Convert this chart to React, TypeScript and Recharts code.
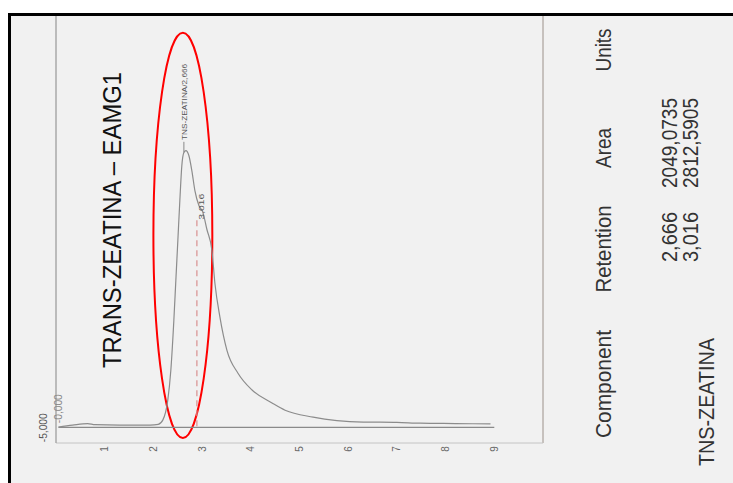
import React from 'react';
import { LineChart, Line, XAxis, YAxis, ReferenceLine, ReferenceArea, ReferenceDot } from 'recharts';

// Retention time (min) and detector signal
const times = [0.05, 0.34, 0.65, 0.8, 1.31, 1.93, 2.1, 2.193, 2.296, 2.358, 2.42, 2.461, 2.502, 2.543, 2.584, 2.626, 2.667, 2.728, 2.79, 2.852, 2.934, 3.016, 3.099, 3.202, 3.263, 3.366, 3.51, 3.737, 4.025, 4.436, 4.704, 5.28, 6.309, 7.0, 7.481, 8.2, 8.922];
const signal = [-4.8, -4.3, -3.9, -4.2, -4.3, -4.3, -4.1, -3.0, 2.3, 10.1, 23.2, 33.7, 44.1, 54.6, 63.8, 67.2, 67.7, 66.4, 62.4, 57.2, 53.3, 51.5, 47.0, 41.5, 32.9, 24.0, 15.3, 9.3, 4.9, 1.5, -0.4, -2.2, -3.5, -3.6, -3.8, -3.9, -4.0];
const xTicks = [1, 2, 3, 4, 5, 6, 7, 8, 9];
const yTicks = [-5, 0];
const yTickLabels = ['-5,000', '-0,000'];
const peakTimes = [2.666, 3.016];
const peakLabels = ['TNS-ZEATINA/2,666', '3,016'];
const title = 'TRANS-ZEATINA – EAMG1';
const tableHeaders = ['Component', 'Retention', 'Area', 'Units'];
const componentName = 'TNS-ZEATINA';
const retentions = ['2,666', '3,016'];
const areas = ['2049,0735', '2812,5905'];

const data = times.map((t, i) => ({ t, v: signal[i] }));

const FONT = '"Liberation Sans", Arial, Helvetica, sans-serif';

function RotText(props: { cx: number; cy: number; text: string; size: number; len?: number; fill?: string; anchor?: string }) {
  const { cx, cy, text, size, len, fill = '#333', anchor = 'middle' } = props;
  return (
    <text
      x={cx}
      y={cy}
      transform={`rotate(-90 ${cx} ${cy})`}
      textAnchor={anchor as any}
      dominantBaseline="central"
      fontFamily={FONT}
      fontSize={size}
      fill={fill}
      textLength={len}
      lengthAdjust={len ? 'spacingAndGlyphs' : undefined}
    >
      {text}
    </text>
  );
}

const XTick = (p: any) => (
  <RotText cx={p.x} cy={p.y + 6} text={String(p.payload.value)} size={10} fill="#666" />
);

const YTick = (p: any) => {
  const idx = yTicks.indexOf(p.payload.value);
  const dx = idx === 0 ? -13 : 2;
  return <RotText cx={p.x + dx} cy={p.y} text={yTickLabels[idx]} size={10} len={29} fill={idx === 0 ? '#555' : '#888'} />;
};

const Ellipse = (p: any) => (
  <ellipse
    cx={p.x + p.width / 2}
    cy={p.y + p.height / 2}
    rx={p.width / 2}
    ry={p.height / 2}
    fill="none"
    stroke="#ff0000"
    strokeWidth={2}
  />
);

export default function App() {
  return (
    <div style={{ position: 'absolute', left: 0, top: 0, width: 733, height: 483, background: '#ffffff', overflow: 'hidden' }}>
      <div
        style={{
          position: 'absolute',
          left: 8,
          top: 13,
          width: 800,
          height: 600,
          background: '#f1f1f1',
          borderLeft: '3px solid #000',
          borderTop: '3px solid #000',
        }}
      />
      <div style={{ position: 'absolute', left: 0, top: 0 }}>
        <LineChart width={733} height={483} data={data} margin={{ top: 16, right: 190, bottom: 0, left: 26 }}>
          <XAxis
            dataKey="t"
            type="number"
            domain={[0, 10]}
            ticks={xTicks}
            tick={<XTick />}
            tickLine={false}
            tickSize={0}
            tickMargin={0}
            height={40}
            interval={0}
            axisLine={{ stroke: '#c4c4c4', strokeWidth: 1 }}
            allowDataOverflow
          />
          <YAxis
            type="number"
            domain={[-9, 103]}
            ticks={yTicks}
            tick={<YTick />}
            tickLine={false}
            tickSize={0}
            tickMargin={0}
            width={30}
            interval={0}
            axisLine={{ stroke: '#a8a8a8', strokeWidth: 1.5 }}
            allowDataOverflow
          />
          <ReferenceLine x={10} stroke="#9c918a" strokeWidth={1} />
          <ReferenceLine
            segment={[{ x: 0.05, y: -4.9 }, { x: 9.0, y: -4.9 }]}
            stroke="#8a8a8a"
            strokeWidth={1.2}
          />
          <ReferenceLine
            segment={[{ x: 2.893, y: -4.6 }, { x: 2.893, y: 49.4 }]}
            stroke="#d89090"
            strokeWidth={1.2}
            strokeDasharray="6 4"
          />
          <ReferenceLine
            segment={[{ x: 2.626, y: 67.2 }, { x: 2.626, y: 70 }]}
            stroke="#888"
            strokeWidth={1}
          />
          <Line
            type="monotone"
            dataKey="v"
            stroke="#8c8c8c"
            strokeWidth={1.2}
            dot={false}
            isAnimationActive={false}
          />
          <ReferenceDot
            x={peakTimes[0] - 0.02}
            y={70.5}
            r={0}
            shape={(p: any) => (
              <RotText cx={p.cx} cy={p.cy} text={peakLabels[0]} size={8} len={76} fill="#555" anchor="start" />
            )}
          />
          <ReferenceDot
            x={peakTimes[1] - 0.02}
            y={53}
            r={0}
            shape={(p: any) => <RotText cx={p.cx} cy={p.cy} text={peakLabels[1]} size={8} len={26} fill="#555" />}
          />
          <ReferenceArea x1={2.0} x2={3.21} y1={-7.7} y2={98.6} shape={<Ellipse />} ifOverflow="visible" />
        </LineChart>
      </div>
      <svg width={733} height={483} style={{ position: 'absolute', left: 0, top: 0, pointerEvents: 'none' }}>
        <RotText cx={112} cy={220} text={title} size={25} len={296} fill="#111" />
        <RotText cx={603} cy={384} text={tableHeaders[0]} size={22} len={108} />
        <RotText cx={603} cy={249} text={tableHeaders[1]} size={22} len={87} />
        <RotText cx={603} cy={148} text={tableHeaders[2]} size={22} len={40} />
        <RotText cx={603} cy={50} text={tableHeaders[3]} size={22} len={43} />
        <RotText cx={669} cy={237} text={retentions[0]} size={22} len={50} />
        <RotText cx={690} cy={237} text={retentions[1]} size={22} len={50} />
        <RotText cx={669} cy={143} text={areas[0]} size={22} len={90} />
        <RotText cx={690} cy={143} text={areas[1]} size={22} len={90} />
        <RotText cx={706} cy={402} text={componentName} size={22} len={128} />
      </svg>
    </div>
  );
}
